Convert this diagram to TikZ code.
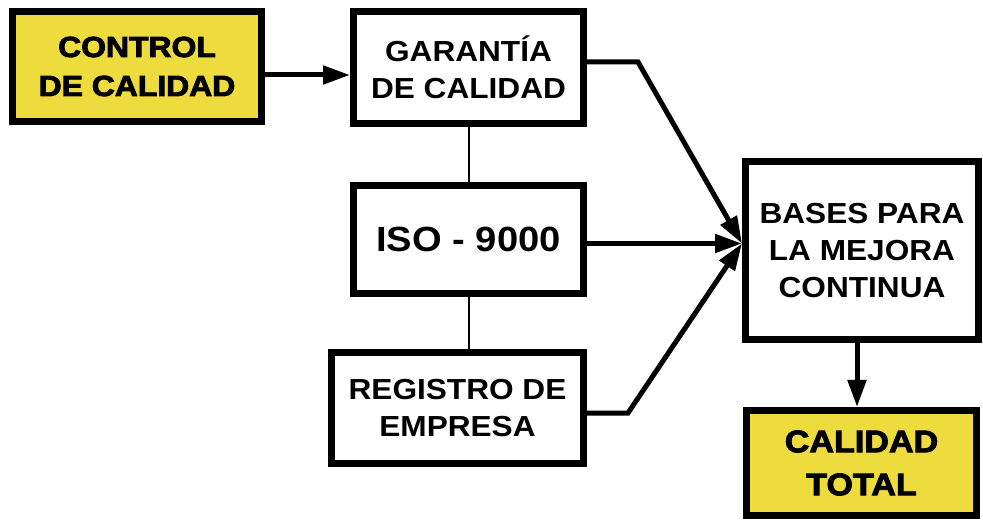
\documentclass[tikz,border=0pt]{standalone}
\usepackage[x11names,table]{xcolor}
\usepackage{fontspec}
\setmainfont{Liberation Sans}
\newfontfamily\heavyfont[FakeBold=3,FakeStretch=1.1]{Liberation Sans Bold}
\newfontfamily\widefont[FakeStretch=1.09]{Liberation Sans Bold}
\usepackage{tikz}
\usetikzlibrary{positioning, arrows.meta, calc}
\definecolor{boxyellow}{RGB}{238,220,62}

\begin{document}
\begin{tikzpicture}[x=1pt, y=-1pt,
        box/.style={draw, line width=7pt, fill=white, align=center, inner sep=0pt,
            font=\widefont\fontsize{29}{37}\selectfont},
        hilite/.style={box, fill=boxyellow, font=\heavyfont\fontsize{29}{39}\selectfont},
        link/.style={line width=5pt, -{Triangle[length=27pt,width=18pt]}},
        tie/.style={line width=2pt}]
        \useasboundingbox (0,0) rectangle (983,521);
        \node[hilite, minimum width=249pt, minimum height=110pt] (1) at (137,66.5) {CONTROL\\DE CALIDAD};
        \node[box, minimum width=230pt, minimum height=112pt] (2) at (468.5,67.5) {GARANTÍA\\DE CALIDAD};
        \node[box, minimum width=230pt, minimum height=108pt, font=\widefont\fontsize{35}{40}\selectfont] (3) at (468.5,239.5) {ISO - 9000};
        \node[box, minimum width=252pt, minimum height=111pt] (4) at (457.5,408) {REGISTRO DE\\EMPRESA};
        \node[box, minimum width=233pt, minimum height=178pt] (5) at (862,250.5) {BASES PARA\\LA MEJORA\\CONTINUA};
        \node[hilite, minimum width=230pt, minimum height=105pt, font=\heavyfont\fontsize{31}{43}\selectfont] (6) at (861.5,463) {CALIDAD\\TOTAL};
        \coordinate (m) at ([yshift=7pt]5.west);
        % the three inputs meet in one point
        \draw[link] ([yshift=-8.5pt]1.east) -- ([yshift=-8.5pt]1.east -| 2.west);
        \draw[link] ([yshift=5.5pt]2.east) -- ++(51,0) -- (m);
        \draw[link] (m -| 3.east) -- (m);
        \draw[link] ([yshift=-5pt]4.east) -- ++(41,0) -- (m);
        \draw[link] ([xshift=-5pt]5.south) -- ([xshift=-5pt]5.south |- 6.north);
        \draw[tie] (2.south) -- (3.north);
        \draw[tie] (3.south) -- (3.south |- 4.north);
    \end{tikzpicture}
\end{document}
